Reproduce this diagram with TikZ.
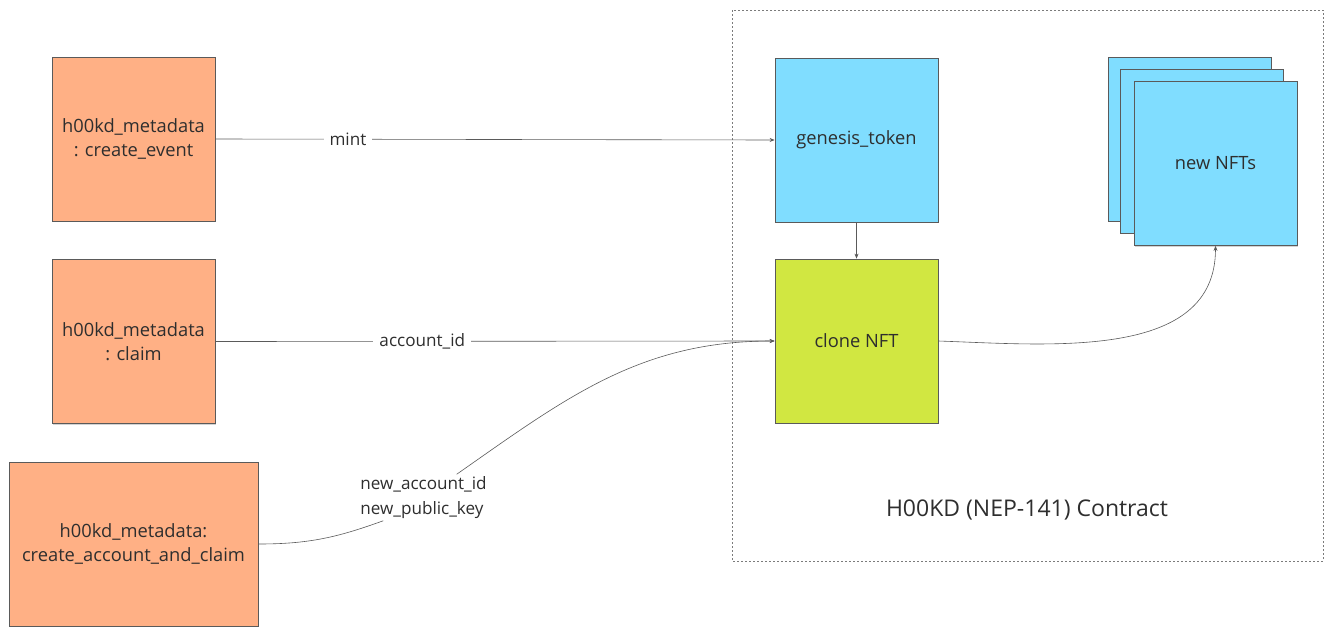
\documentclass[tikz,border=0pt]{standalone}
\usepackage{fontspec}
\setmainfont{Open Sans}
\usetikzlibrary{arrows.meta,positioning,shadows}
\definecolor{callfill}{HTML}{FFB085}
\definecolor{tokenfill}{HTML}{80DDFF}
\definecolor{clonefill}{HTML}{D1E741}
\definecolor{edgegray}{HTML}{5A5A5A}
\definecolor{textgray}{HTML}{2E2E2E}
\tikzset{
  box/.style={draw=edgegray, line width=0.8pt, minimum width=163pt, minimum height=164pt,
    inner sep=0pt, align=center, text=textgray, font=\fontsize{18.3}{24.5}\selectfont,
    drop shadow={shadow xshift=1pt, shadow yshift=-1.2pt, opacity=0.35}},
  call/.style={box, fill=callfill},
  token/.style={box, fill=tokenfill},
  flow/.style={draw=edgegray, line width=0.6pt, -{Stealth[length=5pt,width=4pt]}},
  lbl/.style={fill=white, inner xsep=6pt, inner ysep=2pt, align=left, text=textgray,
    font=\fontsize{17.1}{25}\selectfont},
}
\begin{document}
\begin{tikzpicture}[x=1pt,y=1pt]
\useasboundingbox (0,0) rectangle (1330,-637);
% contract area
\draw[edgegray!80, line width=0.6pt, dash pattern=on 2pt off 2pt] (732,-10) rectangle (1323,-561);
\node[text=textgray, font=\fontsize{23}{27}\selectfont] (contract) at (1027,-510) {H00KD (NEP-141) Contract};
% callers
\node[call] (event) at (133.5,-139) {h00kd\_metadata\\: create\_event};
\node[call] (claim) at (133.5,-341.5) {h00kd\_metadata\\: claim};
\node[call, minimum width=249pt] (accclaim) at (133.5,-544) {h00kd\_metadata:\\create\_account\_and\_claim};
% tokens
\node[token] (genesis) at (856.5,-140) {genesis\_token};
\node[box, fill=clonefill] (clone) at (856.5,-341) {clone NFT};
\node[token] (nft1) at (1189.5,-139) {};
\node[token] (nft2) at (1201.5,-151) {};
\node[token] (nft3) at (1215.5,-163.5) {new NFTs};
% connectors
\draw[flow] (event.east) -- node[lbl, pos=0.237] (mint) {mint} (genesis.west);
\draw[flow] (claim.east) -- node[lbl, pos=0.37] (accid) {account\_id} (clone.west);
\draw[flow] (genesis.south) -- (clone.north);
\node[lbl, inner xsep=2pt] (keys) at (423.5,-497.5) {new\_account\_id\\new\_public\_key};
\draw[draw=edgegray, line width=0.6pt] (accclaim.east) to[out=0,in=200] (keys.-150);
\draw[flow] (keys.35) to[out=35,in=180] (clone.west);
\draw[flow] (clone.east) to[out=-2,in=-90] (nft3.south);
\end{tikzpicture}
\end{document}
